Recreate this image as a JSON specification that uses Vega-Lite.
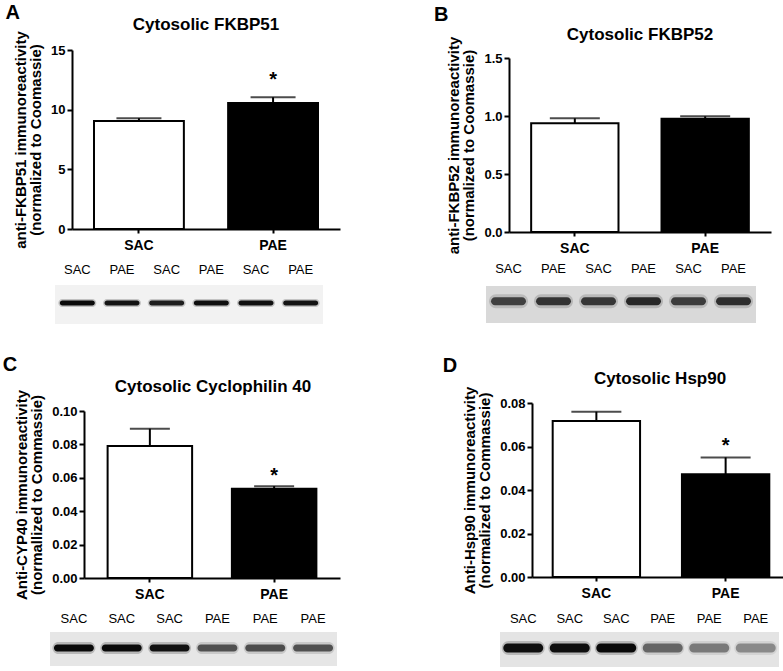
{
  "$schema": "https://vega.github.io/schema/vega-lite/v6.json",
  "background": "white",
  "autosize": {"type": "none"},
  "padding": {"left": 72, "top": 50, "right": 711, "bottom": 621},
  "config": {
    "font": "Liberation Sans",
    "view": {"stroke": null},
    "axis": {"domainColor": "black", "domainWidth": 2, "tickColor": "black", "tickWidth": 2, "labelColor": "black", "labelFont": "Liberation Sans", "labelFontWeight": "bold", "titleFont": "Liberation Sans", "titleFontWeight": "bold", "titleColor": "black", "grid": false},
    "axisX": {"labelFontSize": 14, "tickSize": 4, "labelPadding": 5, "labelAngle": 0},
    "axisY": {"labelFontSize": 13, "tickSize": 5, "labelPadding": 2, "titleFontSize": 15, "titlePadding": 7, "titleLineHeight": 15},
    "title": {"font": "Liberation Sans", "fontSize": 17, "fontWeight": "bold", "color": "black"},
    "text": {"color": "black", "font": "Liberation Sans"}
  },
  "datasets": {
    "barsA": [{"group": "SAC", "mean": 9.05, "upper": 9.28, "sig": ""}, {"group": "PAE", "mean": 10.56, "upper": 11.04, "sig": "*"}],
    "barsB": [{"group": "SAC", "mean": 0.937, "upper": 0.98, "sig": ""}, {"group": "PAE", "mean": 0.977, "upper": 0.997, "sig": ""}],
    "barsC": [{"group": "SAC", "mean": 0.079, "upper": 0.0894, "sig": ""}, {"group": "PAE", "mean": 0.0535, "upper": 0.055, "sig": "*"}],
    "barsD": [{"group": "SAC", "mean": 0.0717, "upper": 0.076, "sig": ""}, {"group": "PAE", "mean": 0.0472, "upper": 0.055, "sig": "*"}],
    "blotA": [{"lane": 1, "group": "SAC", "intensity": 0.95}, {"lane": 2, "group": "PAE", "intensity": 0.9}, {"lane": 3, "group": "SAC", "intensity": 0.85}, {"lane": 4, "group": "PAE", "intensity": 0.92}, {"lane": 5, "group": "SAC", "intensity": 0.92}, {"lane": 6, "group": "PAE", "intensity": 0.9}],
    "blotB": [{"lane": 1, "group": "SAC", "intensity": 0.66}, {"lane": 2, "group": "PAE", "intensity": 0.72}, {"lane": 3, "group": "SAC", "intensity": 0.7}, {"lane": 4, "group": "PAE", "intensity": 0.78}, {"lane": 5, "group": "SAC", "intensity": 0.68}, {"lane": 6, "group": "PAE", "intensity": 0.75}],
    "blotC": [{"lane": 1, "group": "SAC", "intensity": 0.95}, {"lane": 2, "group": "SAC", "intensity": 0.95}, {"lane": 3, "group": "SAC", "intensity": 0.9}, {"lane": 4, "group": "PAE", "intensity": 0.6}, {"lane": 5, "group": "PAE", "intensity": 0.62}, {"lane": 6, "group": "PAE", "intensity": 0.6}],
    "blotD": [{"lane": 1, "group": "SAC", "intensity": 0.92}, {"lane": 2, "group": "SAC", "intensity": 0.92}, {"lane": 3, "group": "SAC", "intensity": 0.95}, {"lane": 4, "group": "PAE", "intensity": 0.5}, {"lane": 5, "group": "PAE", "intensity": 0.42}, {"lane": 6, "group": "PAE", "intensity": 0.35}]
  },
  "vconcat": [
    {
      "spacing": 93,
      "hconcat": [
        {
          "title": {"text": "A", "anchor": "start", "frame": "bounds", "fontSize": 20, "offset": -7, "dx": -8},
          "vconcat": [{
            "title": {"text": "Cytosolic FKBP51", "offset": -3.5},
            "width": 268, "height": 179,
            "layer": [
              {
                "data": {"name": "barsA"},
                "encoding": {
                  "x": {"field": "group", "type": "nominal", "sort": ["SAC", "PAE"], "scale": {"paddingInner": 0.33, "paddingOuter": 0.164}, "axis": {"title": null, "labelAngle": 0}},
                  "y": {"field": "mean", "type": "quantitative", "scale": {"domain": [0, 15], "nice": false, "zero": false}, "axis": {"values": [0, 5, 10, 15], "title": ["anti-FKBP51 immunoreactivity", "(normalized to Coomassie)"]}}
                },
                "layer": [
                  {"mark": {"type": "bar", "stroke": "black", "strokeWidth": 2}, "encoding": {"color": {"field": "group", "type": "nominal", "scale": {"domain": ["SAC", "PAE"], "range": ["white", "black"]}, "legend": null}}},
                  {"mark": {"type": "rule", "strokeWidth": 2, "color": "black"}, "encoding": {"y2": {"field": "upper"}}},
                  {"mark": {"type": "tick", "orient": "horizontal", "size": 45, "thickness": 2, "color": "black"}, "encoding": {"y": {"field": "upper", "type": "quantitative"}}},
                  {"mark": {"type": "text", "baseline": "bottom", "dy": -7, "fontSize": 20, "fontWeight": "bold", "color": "black"}, "encoding": {"y": {"field": "upper", "type": "quantitative"}, "text": {"field": "sig"}}}
                ]
              },
              {
                "data": {"name": "blotA"},
                "layer": [
                  {"data": {"values": [{}]}, "mark": {"type": "rect", "fill": "#f2f2f2"}, "encoding": {"x": {"datum": 0.5, "type": "quantitative", "scale": {"domain": [0.5, 6.5], "range": [-17, 251], "nice": false, "zero": false}, "axis": null}, "x2": {"datum": 6.5}, "y": {"datum": 0, "type": "quantitative", "scale": {"domain": [0, 1], "range": [274, 235], "nice": false, "zero": false}, "axis": null}, "y2": {"datum": 1}}},
                  {"mark": {"type": "tick", "orient": "horizontal", "size": 38, "thickness": 8, "cornerRadius": 4, "color": "black"}, "encoding": {"x": {"field": "lane", "type": "quantitative"}, "y": {"datum": 0.54, "type": "quantitative"}, "fillOpacity": {"field": "intensity", "type": "quantitative", "scale": {"domain": [0, 1], "range": [0, 0.3]}, "legend": null}}},
                  {"mark": {"type": "tick", "orient": "horizontal", "size": 35, "thickness": 5, "cornerRadius": 2.5, "color": "black"}, "encoding": {"x": {"field": "lane", "type": "quantitative"}, "y": {"datum": 0.54, "type": "quantitative"}, "opacity": {"field": "intensity", "type": "quantitative", "scale": {"domain": [0, 1], "range": [0, 1]}, "legend": null}}},
                  {"mark": {"type": "text", "baseline": "middle", "dy": -15, "fontSize": 13, "color": "black"}, "encoding": {"x": {"field": "lane", "type": "quantitative"}, "y": {"datum": 1, "type": "quantitative"}, "text": {"field": "group"}}}
                ]
              }
            ],
            "resolve": {"scale": {"x": "independent", "y": "independent"}, "axis": {"x": "independent", "y": "independent"}}
          }]
        },
        {
          "title": {"text": "B", "anchor": "start", "frame": "bounds", "fontSize": 20, "offset": 1, "dx": -13},
          "vconcat": [{
            "title": {"text": "Cytosolic FKBP52", "offset": -7.5},
            "width": 262, "height": 182,
            "layer": [
              {
                "data": {"name": "barsB"},
                "encoding": {
                  "x": {"field": "group", "type": "nominal", "sort": ["SAC", "PAE"], "scale": {"paddingInner": 0.33, "paddingOuter": 0.17}, "axis": {"title": null, "labelAngle": 0}},
                  "y": {"field": "mean", "type": "quantitative", "scale": {"domain": [0, 1.5], "range": [182, 8], "nice": false, "zero": false}, "axis": {"values": [0, 0.5, 1, 1.5], "format": ".1f", "title": ["anti-FKBP52 immunoreactivity", "(normalized to Coomassie)"]}}
                },
                "layer": [
                  {"mark": {"type": "bar", "stroke": "black", "strokeWidth": 2}, "encoding": {"color": {"field": "group", "type": "nominal", "scale": {"domain": ["SAC", "PAE"], "range": ["white", "black"]}, "legend": null}}},
                  {"mark": {"type": "rule", "strokeWidth": 2, "color": "black"}, "encoding": {"y2": {"field": "upper"}}},
                  {"mark": {"type": "tick", "orient": "horizontal", "size": 50, "thickness": 2, "color": "black"}, "encoding": {"y": {"field": "upper", "type": "quantitative"}}}
                ]
              },
              {
                "data": {"name": "blotB"},
                "layer": [
                  {"data": {"values": [{}]}, "mark": {"type": "rect", "fill": "#d9d9d9"}, "encoding": {"x": {"datum": 0.5, "type": "quantitative", "scale": {"domain": [0.5, 6.5], "range": [-23, 247], "nice": false, "zero": false}, "axis": null}, "x2": {"datum": 6.5}, "y": {"datum": 0, "type": "quantitative", "scale": {"domain": [0, 1], "range": [273, 236], "nice": false, "zero": false}, "axis": null}, "y2": {"datum": 1}}},
                  {"mark": {"type": "tick", "orient": "horizontal", "size": 39, "thickness": 14, "cornerRadius": 7, "color": "black"}, "encoding": {"x": {"field": "lane", "type": "quantitative"}, "y": {"datum": 0.59, "type": "quantitative"}, "fillOpacity": {"field": "intensity", "type": "quantitative", "scale": {"domain": [0, 1], "range": [0, 0.3]}, "legend": null}}},
                  {"mark": {"type": "tick", "orient": "horizontal", "size": 35, "thickness": 8, "cornerRadius": 4, "color": "black"}, "encoding": {"x": {"field": "lane", "type": "quantitative"}, "y": {"datum": 0.59, "type": "quantitative"}, "opacity": {"field": "intensity", "type": "quantitative", "scale": {"domain": [0, 1], "range": [0, 1]}, "legend": null}}},
                  {"mark": {"type": "text", "baseline": "middle", "dy": -17, "fontSize": 13, "color": "black"}, "encoding": {"x": {"field": "lane", "type": "quantitative"}, "y": {"datum": 1, "type": "quantitative"}, "text": {"field": "group"}}}
                ]
              }
            ],
            "resolve": {"scale": {"x": "independent", "y": "independent"}, "axis": {"x": "independent", "y": "independent"}}
          }]
        }
      ]
    },
    {
      "spacing": 102,
      "hconcat": [
        {
          "title": {"text": "C", "anchor": "start", "frame": "bounds", "fontSize": 20, "offset": 3, "dx": -12},
          "vconcat": [{
            "title": {"text": "Cytosolic Cyclophilin 40", "offset": -6.5, "dx": 7},
            "width": 268, "height": 175,
            "layer": [
              {
                "data": {"name": "barsC"},
                "encoding": {
                  "x": {"field": "group", "type": "nominal", "sort": ["SAC", "PAE"], "scale": {"range": [12, 268], "paddingInner": 0.32, "paddingOuter": 0.19}, "axis": {"title": null, "labelAngle": 0}},
                  "y": {"field": "mean", "type": "quantitative", "scale": {"domain": [0, 0.1], "range": [175, 8], "nice": false, "zero": false}, "axis": {"values": [0, 0.02, 0.04, 0.06, 0.08, 0.1], "format": ".2f", "offset": -12, "title": ["Anti-CYP40 immunoreactivity", "(normallized to Commassie)"]}}
                },
                "layer": [
                  {"mark": {"type": "bar", "stroke": "black", "strokeWidth": 2}, "encoding": {"color": {"field": "group", "type": "nominal", "scale": {"domain": ["SAC", "PAE"], "range": ["white", "black"]}, "legend": null}}},
                  {"mark": {"type": "rule", "strokeWidth": 2, "color": "black"}, "encoding": {"y2": {"field": "upper"}}},
                  {"mark": {"type": "tick", "orient": "horizontal", "size": 40, "thickness": 2, "color": "black"}, "encoding": {"y": {"field": "upper", "type": "quantitative"}}},
                  {"mark": {"type": "text", "baseline": "bottom", "dy": 0, "fontSize": 20, "fontWeight": "bold", "color": "black"}, "encoding": {"y": {"field": "upper", "type": "quantitative"}, "text": {"field": "sig"}}}
                ]
              },
              {
                "data": {"name": "blotC"},
                "layer": [
                  {"data": {"values": [{}]}, "mark": {"type": "rect", "fill": "#e6e6e6"}, "encoding": {"x": {"datum": 0.5, "type": "quantitative", "scale": {"domain": [0.5, 6.5], "range": [-22, 265], "nice": false, "zero": false}, "axis": null}, "x2": {"datum": 6.5}, "y": {"datum": 0, "type": "quantitative", "scale": {"domain": [0, 1], "range": [263, 229], "nice": false, "zero": false}, "axis": null}, "y2": {"datum": 1}}},
                  {"mark": {"type": "tick", "orient": "horizontal", "size": 43, "thickness": 12, "cornerRadius": 6, "color": "black"}, "encoding": {"x": {"field": "lane", "type": "quantitative"}, "y": {"datum": 0.53, "type": "quantitative"}, "fillOpacity": {"field": "intensity", "type": "quantitative", "scale": {"domain": [0, 1], "range": [0, 0.3]}, "legend": null}}},
                  {"mark": {"type": "tick", "orient": "horizontal", "size": 40, "thickness": 7, "cornerRadius": 3.5, "color": "black"}, "encoding": {"x": {"field": "lane", "type": "quantitative"}, "y": {"datum": 0.53, "type": "quantitative"}, "opacity": {"field": "intensity", "type": "quantitative", "scale": {"domain": [0, 1], "range": [0, 1]}, "legend": null}}},
                  {"mark": {"type": "text", "baseline": "middle", "dy": -13, "fontSize": 13, "color": "black"}, "encoding": {"x": {"field": "lane", "type": "quantitative"}, "y": {"datum": 1, "type": "quantitative"}, "text": {"field": "group"}}}
                ]
              }
            ],
            "resolve": {"scale": {"x": "independent", "y": "independent"}, "axis": {"x": "independent", "y": "independent"}}
          }]
        },
        {
          "title": {"text": "D", "anchor": "start", "frame": "bounds", "fontSize": 20, "offset": -6, "dx": -20},
          "vconcat": [{
            "title": {"text": "Cytosolic Hsp90", "offset": -1.5, "dx": 3.5},
            "width": 267, "height": 174,
            "layer": [
              {
                "data": {"name": "barsD"},
                "encoding": {
                  "x": {"field": "group", "type": "nominal", "sort": ["SAC", "PAE"], "scale": {"range": [9, 267], "paddingInner": 0.324, "paddingOuter": 0.16}, "axis": {"title": null, "labelAngle": 0}},
                  "y": {"field": "mean", "type": "quantitative", "scale": {"domain": [0, 0.08], "range": [174, 0], "nice": false, "zero": false}, "axis": {"values": [0, 0.02, 0.04, 0.06, 0.08], "format": ".2f", "offset": -9, "title": ["Anti-Hsp90 immunoreactivity", "(normalized to Commassie)"]}}
                },
                "layer": [
                  {"mark": {"type": "bar", "stroke": "black", "strokeWidth": 2}, "encoding": {"color": {"field": "group", "type": "nominal", "scale": {"domain": ["SAC", "PAE"], "range": ["white", "black"]}, "legend": null}}},
                  {"mark": {"type": "rule", "strokeWidth": 2, "color": "black"}, "encoding": {"y2": {"field": "upper"}}},
                  {"mark": {"type": "tick", "orient": "horizontal", "size": 50, "thickness": 2, "color": "black"}, "encoding": {"y": {"field": "upper", "type": "quantitative"}}},
                  {"mark": {"type": "text", "baseline": "bottom", "dy": -1, "fontSize": 20, "fontWeight": "bold", "color": "black"}, "encoding": {"y": {"field": "upper", "type": "quantitative"}, "text": {"field": "sig"}}}
                ]
              },
              {
                "data": {"name": "blotD"},
                "layer": [
                  {"data": {"values": [{}]}, "mark": {"type": "rect", "fill": "#e4e4e4"}, "encoding": {"x": {"datum": 0.5, "type": "quantitative", "scale": {"domain": [0.5, 6.5], "range": [-23, 256], "nice": false, "zero": false}, "axis": null}, "x2": {"datum": 6.5}, "y": {"datum": 0, "type": "quantitative", "scale": {"domain": [0, 1], "range": [264, 229], "nice": false, "zero": false}, "axis": null}, "y2": {"datum": 1}}},
                  {"mark": {"type": "tick", "orient": "horizontal", "size": 43, "thickness": 14, "cornerRadius": 7, "color": "black"}, "encoding": {"x": {"field": "lane", "type": "quantitative"}, "y": {"datum": 0.54, "type": "quantitative"}, "fillOpacity": {"field": "intensity", "type": "quantitative", "scale": {"domain": [0, 1], "range": [0, 0.3]}, "legend": null}}},
                  {"mark": {"type": "tick", "orient": "horizontal", "size": 40, "thickness": 9, "cornerRadius": 4.5, "color": "black"}, "encoding": {"x": {"field": "lane", "type": "quantitative"}, "y": {"datum": 0.54, "type": "quantitative"}, "opacity": {"field": "intensity", "type": "quantitative", "scale": {"domain": [0, 1], "range": [0, 1]}, "legend": null}}},
                  {"mark": {"type": "text", "baseline": "middle", "dy": -13, "fontSize": 13, "color": "black"}, "encoding": {"x": {"field": "lane", "type": "quantitative"}, "y": {"datum": 1, "type": "quantitative"}, "text": {"field": "group"}}}
                ]
              }
            ],
            "resolve": {"scale": {"x": "independent", "y": "independent"}, "axis": {"x": "independent", "y": "independent"}}
          }]
        }
      ]
    }
  ],
  "spacing": 30
}
